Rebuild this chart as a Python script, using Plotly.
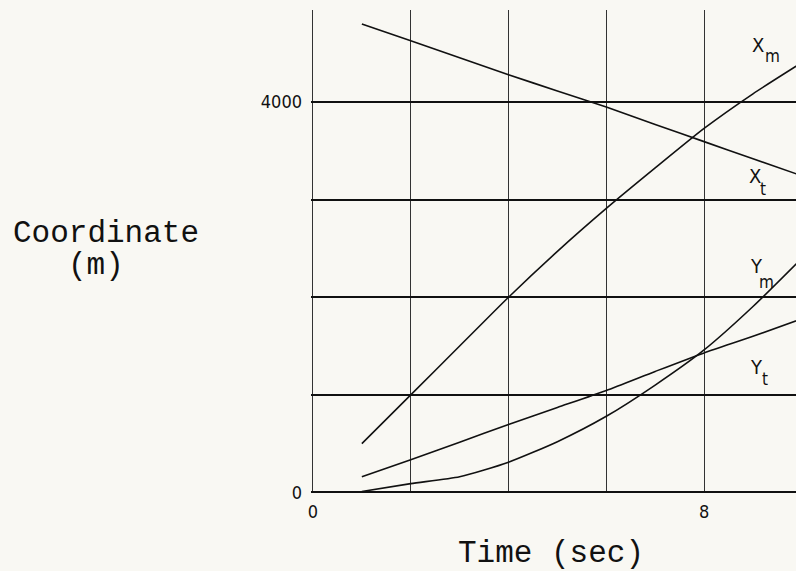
import plotly.graph_objects as go

# time (sec)
t = [1, 2, 3, 4, 5, 6, 7, 8, 9, 10]
# coordinates (m)
x_t = [4800, 4630, 4455, 4280, 4115, 3950, 3770, 3595, 3420, 3245]
x_m = [500, 1000, 1500, 2000, 2470, 2910, 3325, 3730, 4085, 4405]
y_t = [160, 335, 515, 695, 870, 1045, 1240, 1430, 1600, 1780]
y_m = [10, 90, 160, 310, 520, 780, 1100, 1460, 1905, 2400]

x_tickvals = [0, 2, 4, 6, 8]
x_ticktext = ["0", "", "", "", "8"]
y_tickvals = [0, 1000, 2000, 3000, 4000]
y_ticktext = ["0", "", "", "", "4000"]

series = [("X", "m", x_m, 9.10, 4583, 9.39, 4473),
          ("X", "t", x_t, 9.04, 3240, 9.21, 3106),
          ("Y", "m", y_m, 9.08, 2320, 9.28, 2153),
          ("Y", "t", y_t, 9.08, 1282, 9.25, 1158)]

narrow = "Liberation Sans Narrow, DejaVu Sans Condensed, Roboto Condensed, sans-serif"
fig = go.Figure()
annotations = []
lab_font = dict(family=narrow, size=20, color="#111")
sub_font = dict(family=narrow, size=17, color="#111")
for main, sub, vals, ax_, ay_, sx, sy in series:
    fig.add_trace(go.Scatter(x=t, y=vals, mode="lines",
                             line=dict(color="#111", width=1.6, shape="spline", smoothing=0.6),
                             showlegend=False, name=main + sub))
    annotations.append(dict(x=ax_, y=ay_, xref="x", yref="y", text=main, showarrow=False,
                            font=lab_font, xanchor="center", yanchor="middle"))
    annotations.append(dict(x=sx, y=sy, xref="x", yref="y", text=sub, showarrow=False,
                            font=sub_font, xanchor="center", yanchor="middle"))

mono = dict(family="Liberation Mono, Courier New, monospace", size=31, color="#111")
annotations.append(dict(x=(106 - 311) / 485, y=(493 - 233) / 483, xref="paper", yref="paper",
                        text="Coordinate", showarrow=False, font=mono,
                        xanchor="center", yanchor="middle"))
annotations.append(dict(x=(96 - 311) / 485, y=(493 - 265) / 483, xref="paper", yref="paper",
                        text="(m)", showarrow=False, font=mono,
                        xanchor="center", yanchor="middle"))
annotations.append(dict(x=(551 - 311) / 485, y=(493 - 553) / 483, xref="paper", yref="paper",
                        text="Time (sec)", showarrow=False, font=mono,
                        xanchor="center", yanchor="middle"))

tick_font = dict(family=narrow, size=18, color="#111")
fig.update_layout(
    width=796, height=571,
    margin=dict(l=311, r=0, t=10, b=78),
    paper_bgcolor="#f9f8f3", plot_bgcolor="#f9f8f3",
    annotations=annotations,
    xaxis=dict(range=[-0.04, 9.88], tickvals=x_tickvals, ticktext=x_ticktext,
               showgrid=True, gridcolor="#333", gridwidth=1, zeroline=False,
               showline=False, ticks="", tickfont=tick_font, ticklabelstandoff=6),
    yaxis=dict(range=[-6, 4944], tickvals=y_tickvals, ticktext=y_ticktext,
               showgrid=True, gridcolor="#111", gridwidth=2, zeroline=True,
               zerolinecolor="#111", zerolinewidth=2,
               showline=False, ticks="", tickfont=tick_font, ticklabelstandoff=8),
)
fig.write_html("out.html", config={"displayModeBar": False},
               post_script="document.body.style.margin='0';document.body.style.background='#f9f8f3';")
